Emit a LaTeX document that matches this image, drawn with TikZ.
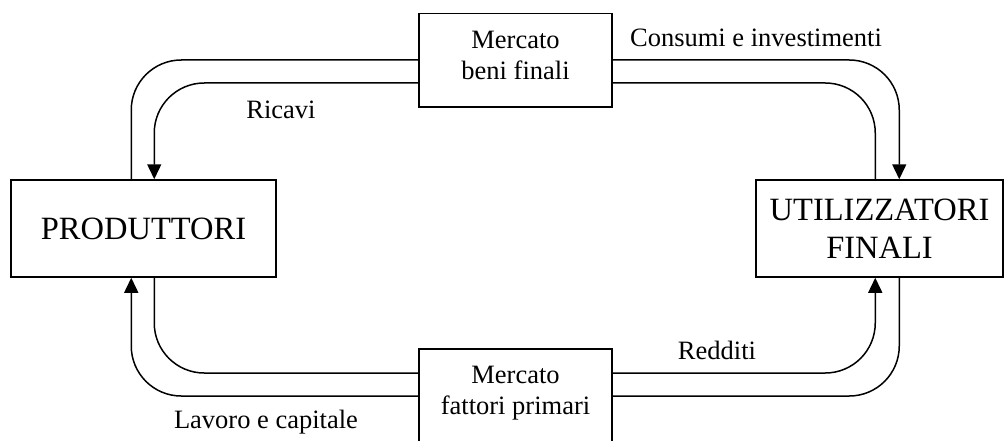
\documentclass[tikz,border=0pt]{standalone}
\usepackage{fontspec}
\setmainfont{Liberation Serif}
\usepackage{tikz}
\usetikzlibrary{calc, positioning, arrows.meta, backgrounds}

\begin{document}
\begin{tikzpicture}[x=1pt, y=-1pt,
    box/.style={draw, fill=white, line width=1.5pt, align=center},
    bigtext/.style={font=\fontsize{32.5}{38}\selectfont},
    smalltext/.style={font=\fontsize{26.5}{31}\selectfont},
    mkt/.style={box, smalltext, minimum width=193pt, anchor=north, inner ysep=17pt},
    flow/.style={line width=1.5pt, rounded corners=50pt},
    tip/.style={-{Triangle[length=15pt,width=14pt]}}]
  \useasboundingbox (0,0) rectangle (1008,441);

  \node[box, bigtext, minimum width=265pt, minimum height=97pt] (prod) at (143.5,228.5) {PRODUTTORI};
  \node[box, bigtext, minimum width=247pt, minimum height=97pt] (util) at (879.5,228.5) {UTILIZZATORI\\FINALI};
  \node[mkt, text depth=11pt] (mbf) at (515.5,13) {Mercato\\beni finali};
  \node[mkt, text depth=40pt] (mfp) at (515.5,348) {Mercato\\fattori primari};

  \begin{scope}[on background layer]
    \draw[flow, tip] ($(prod.north west)+(121,0)$) |- ($(mbf.north west)+(0,47)$) -| ($(util.north west)+(144,0)$);
    \draw[flow, tip] ($(util.north west)+(120,0)$) |- ($(mbf.north west)+(0,70)$) -| ($(prod.north west)+(144,0)$);
    \draw[flow, tip] ($(prod.south west)+(144,0)$) |- ($(mfp.north west)+(0,25)$) -| ($(util.south west)+(120,0)$);
    \draw[flow, tip] ($(util.south west)+(144,0)$) |- ($(mfp.north west)+(0,48)$) -| ($(prod.south west)+(121,0)$);
  \end{scope}

  \node[smalltext] (lcons) at (756,38) {Consumi e investimenti};
  \node[smalltext] (lric) at (281,110) {Ricavi};
  \node[smalltext] (lred) at (717,350) {Redditi};
  \node[smalltext] (llav) at (266,422) {Lavoro e capitale};
\end{tikzpicture}
\end{document}
